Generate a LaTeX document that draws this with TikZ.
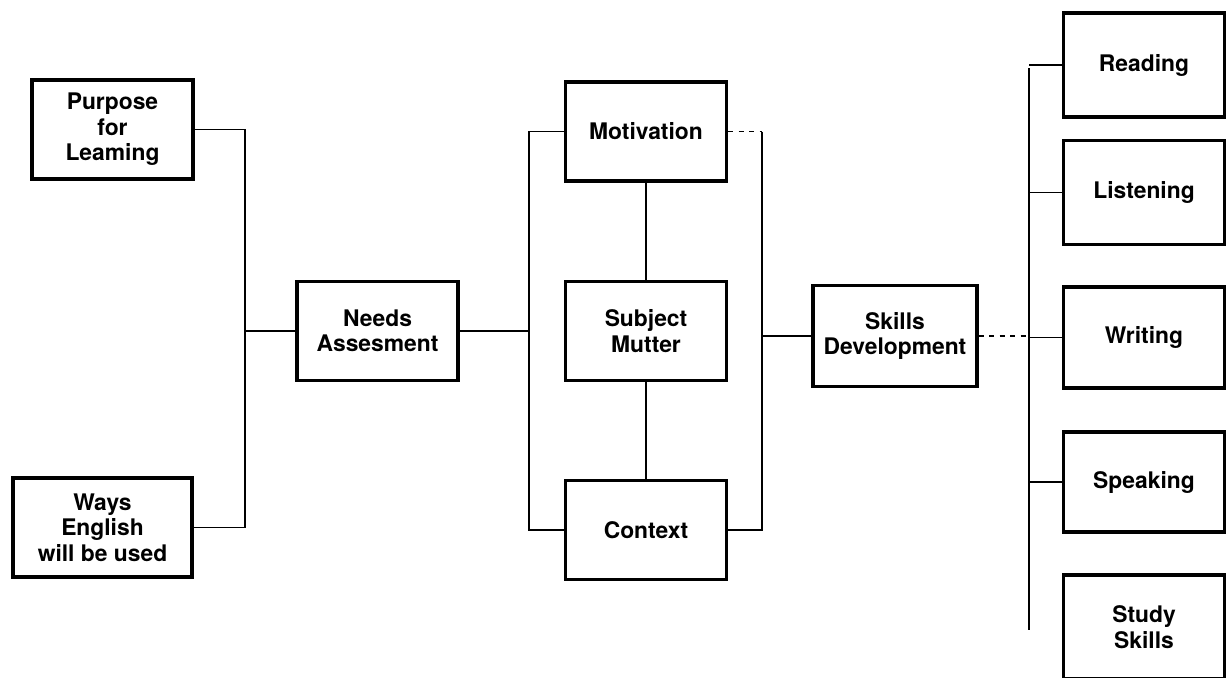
\documentclass[tikz,border=0pt]{standalone}
\usepackage{fontspec}
\setmainfont{TeX Gyre Heros}
\usetikzlibrary{calc}

\begin{document}
\begin{tikzpicture}[x=0.02cm, y=-0.02cm,
    box/.style={draw, line width=1.8pt, minimum width=3.22cm, minimum height=1.98cm, align=center, inner sep=2pt, font=\bfseries\fontsize{13}{14.5}\selectfont},
    link/.style={line width=0.9pt}]
    \pgfmathsetmacro{\leftbus}{245}
    \pgfmathsetmacro{\midbus}{529}
    \pgfmathsetmacro{\rightbus}{762}
    \pgfmathsetmacro{\spine}{1029}

    \useasboundingbox (0,0) rectangle (1227,677);

    % needs side
    \node [box] (purpose) at (112.5, 129.5) {Purpose\\for\\Leaming};
    \node [box, minimum width=3.58cm] (ways) at (102.5, 527.5) {Ways\\English\\will be used};
    \node [box] (needs) at (377.5, 331) {Needs\\Assesment};

    % middle column
    \node [box] (motivation) at (646, 131.5) {Motivation};
    \node [box] (subject) at (646, 331) {Subject\\Mutter};
    \node [box] (context) at (646, 530) {Context};

    \node [box, minimum width=3.28cm, minimum height=2.02cm] (skills) at (895, 336) {Skills\\Development};

    % skills column
    \node [box, minimum height=2.08cm] (reading) at (1144, 65) {Reading};
    \node [box, minimum height=2.08cm] (listening) at (1144, 192.5) {Listening};
    \node [box, minimum height=2.02cm] (writing) at (1144, 337.5) {Writing};
    \node [box, minimum height=2.0cm] (speaking) at (1144, 482) {Speaking};
    \node [box, minimum height=2.08cm] (study) at (1144, 627) {Study\\Skills};

    \coordinate (jl) at (\leftbus, 331);
    \coordinate (jm) at (\midbus, 331);
    \coordinate (jr) at (\rightbus, 336);
    \coordinate (stop) at (\spine, 68);
    \coordinate (sbot) at (\spine, 630);

    \draw [link] (purpose.east) -| (jl) |- (ways.east);
    \draw [link] (jl) -- (needs.west);
    \draw [link] (needs.east) -- (jm);
    \draw [link] (motivation.west) -| (jm) |- (context.west);
    \draw [link] (motivation.south) -- (subject.north);
    \draw [link] (subject.south) -- (context.north);
    \draw [link, dashed] (motivation.east) -- (motivation.east -| jr);
    \draw [link] (motivation.east -| jr) -- (jr) |- (context.east);
    \draw [link] (jr) -- (skills.west);
    \draw [link, dashed] (skills.east) -- (skills.east -| stop);

    \draw [line width=1.2pt] (stop) -- (sbot);
    \foreach \skill in {reading, listening, writing, speaking}
        \draw [link] (\skill.west) -- (\skill.west -| stop);
\end{tikzpicture}
\end{document}
